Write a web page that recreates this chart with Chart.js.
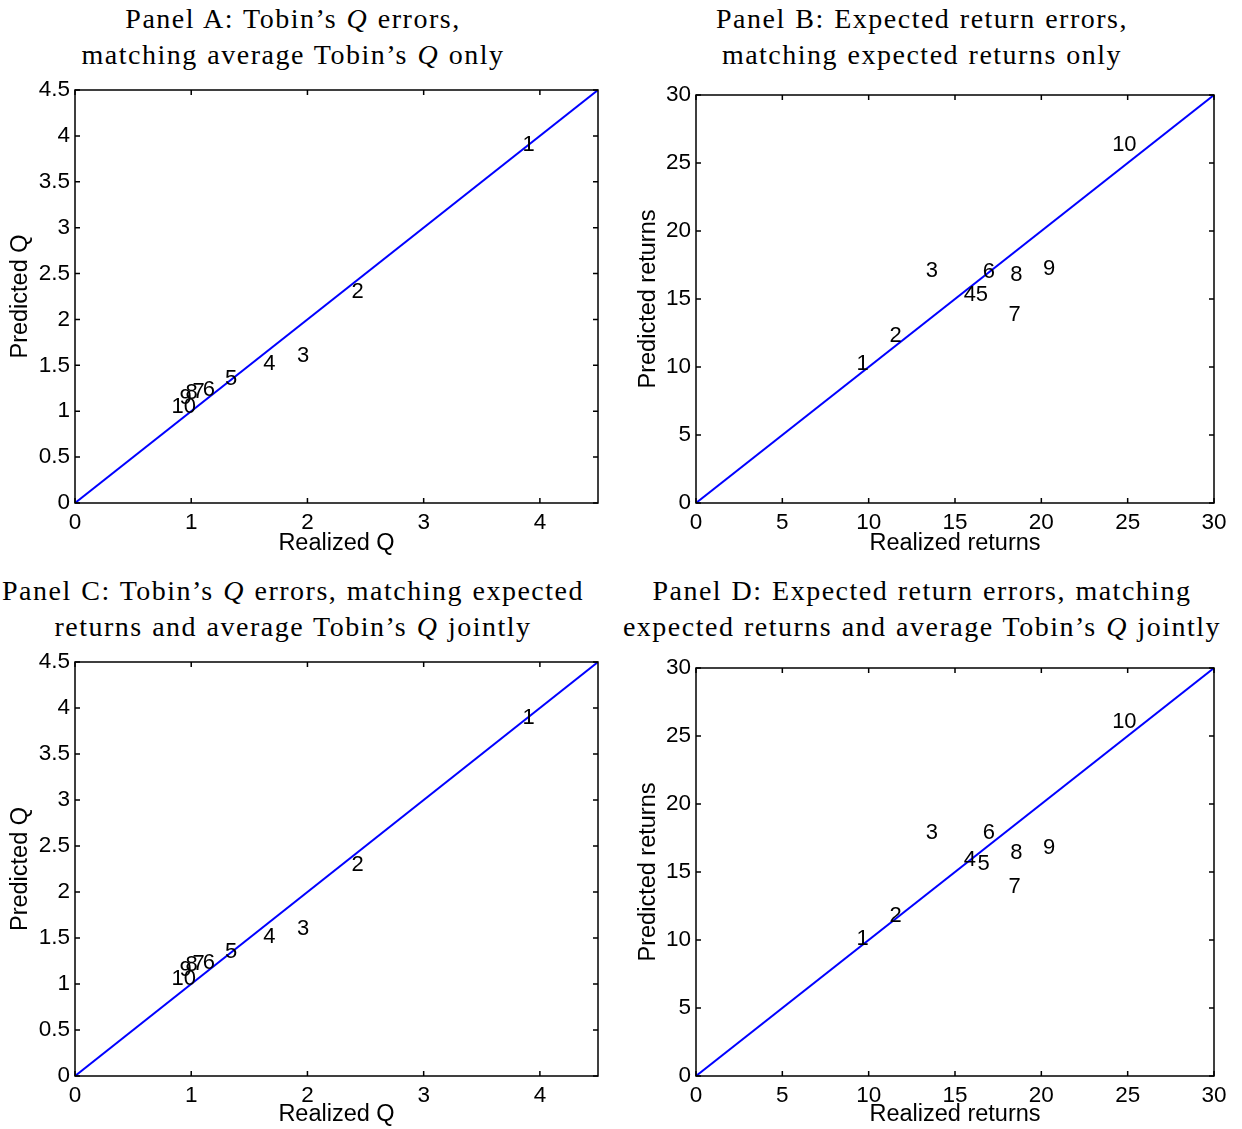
<!DOCTYPE html>
<html>
<head>
<meta charset="utf-8">
<script src="https://cdn.jsdelivr.net/npm/chart.js@4.4.1/dist/chart.umd.min.js"></script>
<style>
  body { margin: 0; width: 1242px; height: 1129px; overflow: hidden; background: #fff; position: relative; }
  .ttl { position: absolute; font-family: "Liberation Serif", serif; font-size: 28px; line-height: 36px;
         letter-spacing: 1.5px; word-spacing: 1px;
         text-align: center; white-space: nowrap; transform: translateX(-50%); color: #000; }
  canvas { position: absolute; }
</style>
</head>
<body>
<div class="ttl" style="left:293px;top:1px">Panel A: Tobin’s <i>Q</i> errors,<br>matching average Tobin’s <i>Q</i> only</div>
<div class="ttl" style="left:922px;top:1px">Panel B: Expected return errors,<br>matching expected returns only</div>
<div class="ttl" style="left:293px;top:573px">Panel C: Tobin’s <i>Q</i> errors, matching expected<br>returns and average Tobin’s <i>Q</i> jointly</div>
<div class="ttl" style="left:922px;top:573px">Panel D: Expected return errors, matching<br>expected returns and average Tobin’s <i>Q</i> jointly</div>

<canvas id="panelA" width="620" height="492" style="left:0;top:68px"></canvas>
<canvas id="panelB" width="621" height="492" style="left:621px;top:68px"></canvas>
<canvas id="panelC" width="620" height="489" style="left:0;top:640px"></canvas>
<canvas id="panelD" width="621" height="489" style="left:621px;top:640px"></canvas>

<script>
// etiquetas de las carteras
const portLabels = ['1', '2', '3', '4', '5', '6', '7', '8', '9', '10'];

// ticks
const qTicksX = [0, 1, 2, 3, 4];
const qTicksY = [0, 0.5, 1, 1.5, 2, 2.5, 3, 3.5, 4, 4.5];
const retTicks = [0, 5, 10, 15, 20, 25, 30];

// Panel A: Q realizado vs predicho
const aRealized = [3.85, 2.38, 1.91, 1.62, 1.29, 1.10, 1.01, 0.95, 0.90, 0.83];
const aPredicted = [3.90, 2.30, 1.60, 1.51, 1.35, 1.23, 1.21, 1.20, 1.14, 1.05];

// Panel B: retornos
const bRealized = [9.3, 11.2, 13.3, 15.5, 16.2, 16.6, 18.1, 18.2, 20.1, 24.1];
const bPredicted = [10.2, 12.3, 17.1, 15.3, 15.3, 17.0, 13.8, 16.8, 17.2, 26.3];

// Panel C
const cRealized = [3.85, 2.38, 1.91, 1.62, 1.29, 1.10, 1.01, 0.95, 0.90, 0.83];
const cPredicted = [3.89, 2.29, 1.60, 1.51, 1.35, 1.23, 1.22, 1.21, 1.15, 1.06];

// Panel D
const dRealized = [9.3, 11.2, 13.3, 15.5, 16.3, 16.6, 18.1, 18.2, 20.1, 24.1];
const dPredicted = [10.1, 11.8, 17.9, 15.9, 15.6, 17.9, 13.9, 16.4, 16.8, 26.0];

const tickFont = { family: 'Liberation Sans', size: 22.5 };
const titleFont = { family: 'Liberation Sans', size: 23.5 };

// caja con ticks hacia adentro, estilo MATLAB
const boxPlugin = {
  id: 'box',
  afterDraw(chart) {
    const { ctx, chartArea: a, scales: { x, y } } = chart;
    const L = 5;
    ctx.save();
    ctx.strokeStyle = '#000';
    ctx.lineWidth = 1.5;
    ctx.beginPath();
    x.ticks.forEach(t => {
      const px = x.getPixelForValue(t.value);
      ctx.moveTo(px, a.bottom); ctx.lineTo(px, a.bottom - L);
      ctx.moveTo(px, a.top); ctx.lineTo(px, a.top + L);
    });
    y.ticks.forEach(t => {
      const py = y.getPixelForValue(t.value);
      ctx.moveTo(a.left, py); ctx.lineTo(a.left + L, py);
      ctx.moveTo(a.right, py); ctx.lineTo(a.right - L, py);
    });
    ctx.stroke();
    ctx.strokeRect(a.left, a.top, a.right - a.left, a.bottom - a.top);
    ctx.restore();
  }
};

// números de cartera en lugar de marcadores
const labelPlugin = {
  id: 'portLabels',
  afterDatasetsDraw(chart) {
    const { ctx } = chart;
    const meta = chart.getDatasetMeta(1);
    ctx.save();
    ctx.fillStyle = '#000';
    ctx.font = '22px "Liberation Sans"';
    ctx.textAlign = 'left';
    ctx.textBaseline = 'middle';
    meta.data.forEach((pt, i) => {
      ctx.fillText(portLabels[i], pt.x, pt.y);
    });
    ctx.restore();
  }
};

function makePanel(id, xs, ys, cfg) {
  const pts = xs.map((v, i) => ({ x: v, y: ys[i] }));
  new Chart(document.getElementById(id), {
    type: 'scatter',
    data: {
      datasets: [
        {
          data: [{ x: 0, y: 0 }, { x: cfg.max, y: cfg.max }],
          showLine: true,
          borderColor: '#0000ff',
          borderWidth: 2,
          pointRadius: 0
        },
        { data: pts, pointRadius: 0, pointHoverRadius: 0 }
      ]
    },
    options: {
      responsive: false,
      animation: false,
      events: [],
      layout: { padding: { left: 0, right: cfg.padRight, top: cfg.padTop, bottom: 0 } },
      plugins: { legend: { display: false }, tooltip: { enabled: false } },
      scales: {
        x: {
          type: 'linear', min: 0, max: cfg.max,
          afterBuildTicks: s => { s.ticks = cfg.xTicks.map(v => ({ value: v })); },
          afterFit: s => { s.height = cfg.xHeight; },
          grid: { display: false, drawTicks: false },
          border: { display: false },
          ticks: { font: tickFont, color: '#000', padding: 6, maxRotation: 0, callback: v => String(v) },
          title: { display: true, text: cfg.xTitle, font: titleFont, color: '#000', padding: cfg.xTitlePad }
        },
        y: {
          type: 'linear', min: 0, max: cfg.max,
          afterBuildTicks: s => { s.ticks = cfg.yTicks.map(v => ({ value: v })); },
          afterFit: s => { s.width = 75; },
          grid: { display: false, drawTicks: false },
          border: { display: false },
          ticks: { font: tickFont, color: '#000', padding: 5, callback: v => String(v) },
          title: { display: true, text: cfg.yTitle, font: titleFont, color: '#000', padding: cfg.yTitlePad }
        }
      }
    },
    plugins: [boxPlugin, labelPlugin]
  });
}

makePanel('panelA', aRealized, aPredicted, {
  max: 4.5, xTicks: qTicksX, yTicks: qTicksY, padRight: 22, padTop: 22, xHeight: 57,
  xTitle: 'Realized Q', yTitle: 'Predicted Q', xTitlePad: 2, yTitlePad: 6
});
makePanel('panelB', bRealized, bPredicted, {
  max: 30, xTicks: retTicks, yTicks: retTicks, padRight: 28, padTop: 27, xHeight: 57,
  xTitle: 'Realized returns', yTitle: 'Predicted returns', xTitlePad: 2, yTitlePad: 13
});
makePanel('panelC', cRealized, cPredicted, {
  max: 4.5, xTicks: qTicksX, yTicks: qTicksY, padRight: 22, padTop: 22, xHeight: 53,
  xTitle: 'Realized Q', yTitle: 'Predicted Q', xTitlePad: 0, yTitlePad: 6
});
makePanel('panelD', dRealized, dPredicted, {
  max: 30, xTicks: retTicks, yTicks: retTicks, padRight: 28, padTop: 28, xHeight: 53,
  xTitle: 'Realized returns', yTitle: 'Predicted returns', xTitlePad: 0, yTitlePad: 13
});
</script>
</body>
</html>
